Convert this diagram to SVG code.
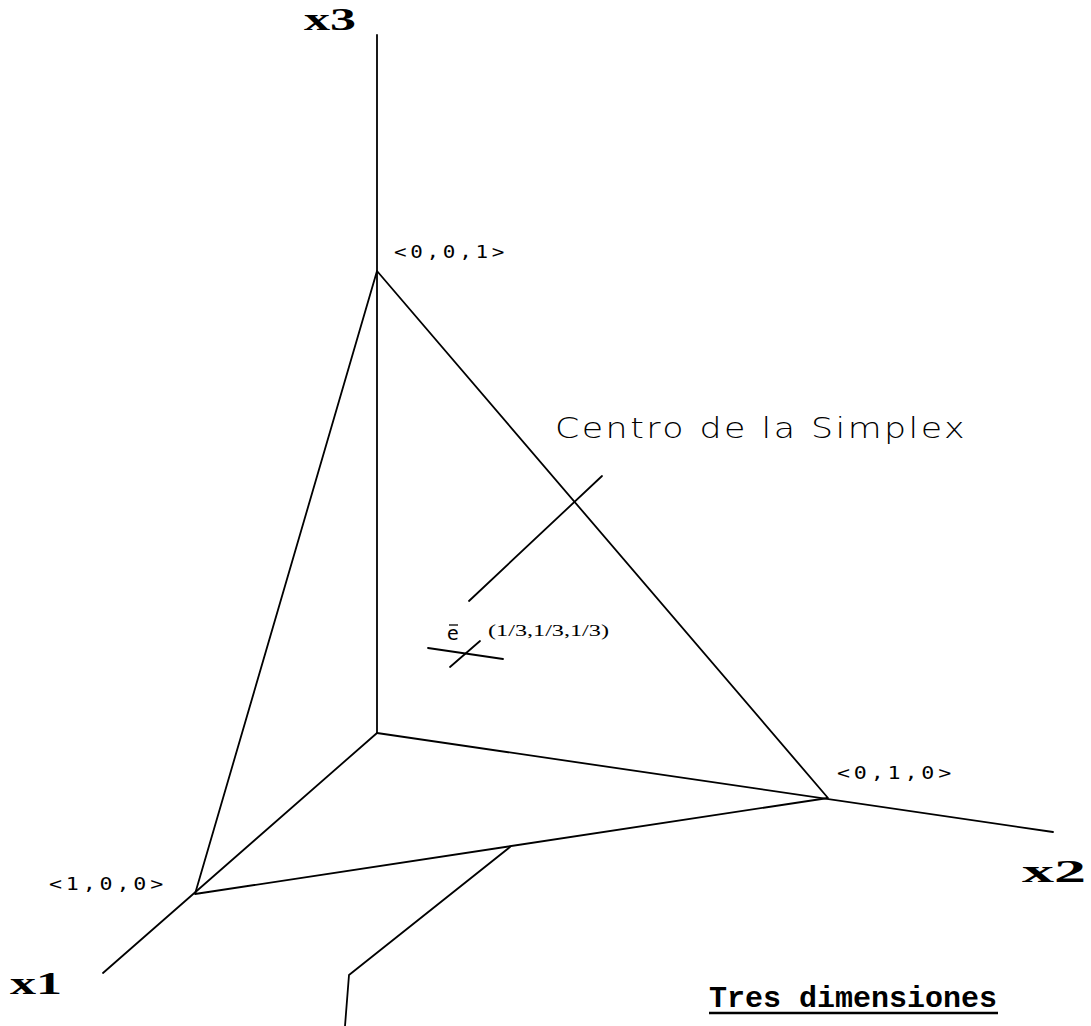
<svg xmlns="http://www.w3.org/2000/svg" width="1091" height="1026" viewBox="0 0 1091 1026">
<style>
.ln{stroke:#000;stroke-width:1.8;fill:none;stroke-linecap:round;stroke-linejoin:round}
.ax{font-family:"Liberation Serif",serif;font-weight:bold;font-size:32px;fill:#000}
.pt{font-family:"DejaVu Sans Mono","Liberation Mono",monospace;font-size:17px;fill:#000;letter-spacing:3px}
.lbl{font-family:"DejaVu Sans","Liberation Sans",sans-serif;font-weight:300;font-size:28px;fill:#000;letter-spacing:2px}
.sm{font-family:"Liberation Serif",serif;font-size:16px;fill:#000}
.tt{font-family:"Liberation Mono",monospace;font-weight:bold;font-size:30px;fill:#000}
</style>
<rect width="1091" height="1026" fill="#fff"/>
<g id="connectors">
<line class="ln" x1="377" y1="35" x2="377" y2="733"/>
<line class="ln" x1="377" y1="733" x2="103" y2="973"/>
<line class="ln" x1="377" y1="733" x2="1053" y2="832"/>
<polyline class="ln" points="510,847 349,975 345,1026"/>
<line class="ln" x1="602" y1="476" x2="469" y2="601"/>
<line class="ln" x1="428" y1="648" x2="503" y2="659"/>
<line class="ln" x1="480" y1="641" x2="450" y2="667"/>
</g>
<g id="simplex">
<polygon class="ln" points="377,271 195,894 828,798"/>
</g>
<g id="axis-x3"><text class="ax" x="304" y="30" textLength="52" lengthAdjust="spacingAndGlyphs">x3</text></g>
<g id="axis-x1"><text class="ax" x="10" y="994" textLength="52" lengthAdjust="spacingAndGlyphs">x1</text></g>
<g id="axis-x2"><text class="ax" x="1022" y="882" textLength="64" lengthAdjust="spacingAndGlyphs">x2</text></g>
<g id="v001"><text class="pt" x="394" y="258" textLength="114" lengthAdjust="spacingAndGlyphs">&lt;0,0,1&gt;</text></g>
<g id="v010"><text class="pt" x="837" y="779" textLength="118" lengthAdjust="spacingAndGlyphs">&lt;0,1,0&gt;</text></g>
<g id="v100"><text class="pt" x="49" y="890" textLength="118" lengthAdjust="spacingAndGlyphs">&lt;1,0,0&gt;</text></g>
<g id="centro"><text class="lbl" x="555" y="438" textLength="412" lengthAdjust="spacingAndGlyphs">Centro de la Simplex</text></g>
<g id="e-point">
<text x="447" y="640" font-family="DejaVu Sans,sans-serif" font-size="19" fill="#000">e</text>
<line x1="449" y1="625" x2="458" y2="625" stroke="#000" stroke-width="1.3"/>
<text class="sm" x="488" y="636" textLength="121" lengthAdjust="spacingAndGlyphs">(1/3,1/3,1/3)</text>
</g>
<g id="title">
<text class="tt" x="709" y="1007">Tres dimensiones</text>
<line x1="709" y1="1013" x2="998" y2="1013" stroke="#000" stroke-width="2.5"/>
</g>
</svg>
